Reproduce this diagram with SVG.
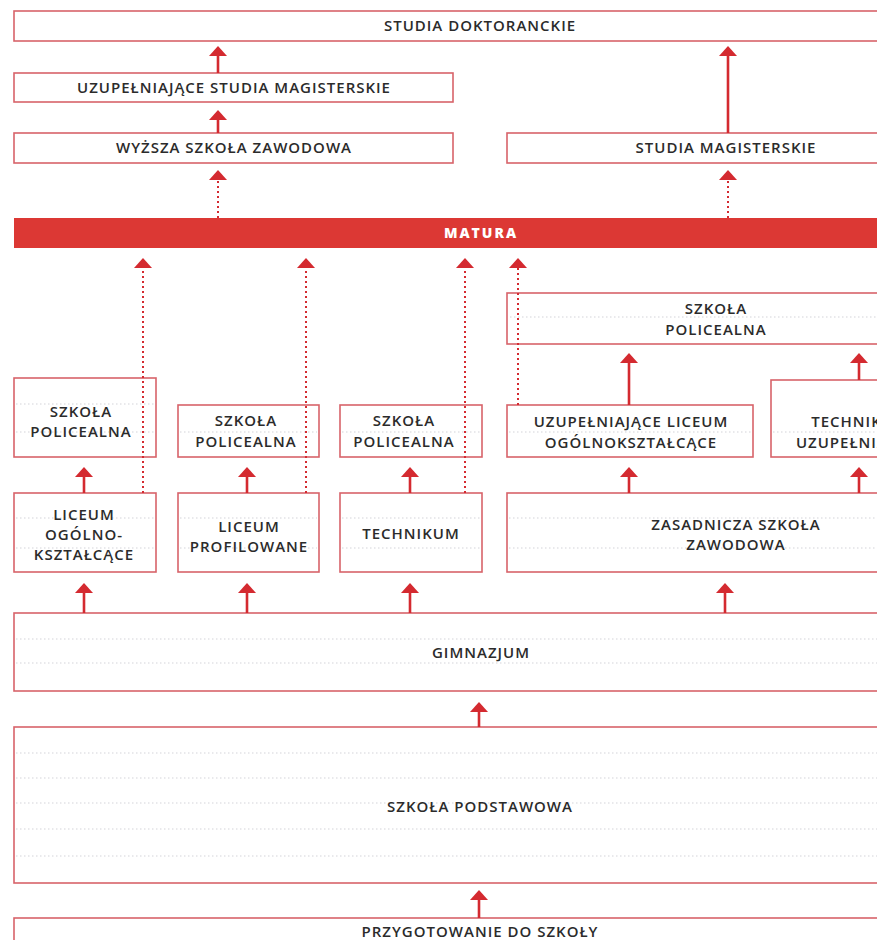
<svg xmlns="http://www.w3.org/2000/svg" width="877" height="940" viewBox="0 0 877 940">
<defs>
<style>
.box{fill:#fff;stroke:#d8636a;stroke-width:1.6}
.t{font-family:"Open Sans","Liberation Sans",sans-serif;font-size:15px;font-weight:600;fill:#2b2b2b;letter-spacing:1px;text-anchor:middle}
.mat{font-family:"Open Sans","Liberation Sans",sans-serif;font-size:14px;font-weight:800;fill:#fff;letter-spacing:2px;text-anchor:middle}
.sol{stroke:#d42a30;stroke-width:2.6;fill:none;marker-end:url(#ah)}
.dot{stroke:#d42a30;stroke-width:2;stroke-dasharray:2 3;fill:none;marker-end:url(#ah)}
.grid{stroke:#c4c4cc;stroke-width:1.2;stroke-dasharray:1.5 2.5;opacity:0.7}
</style>
<marker id="ah" viewBox="0 0 10 18" refX="0" refY="9" markerWidth="10" markerHeight="18" markerUnits="userSpaceOnUse" orient="auto">
<path d="M0,0 L10,9 L0,18 z" fill="#d42a30"/>
</marker>
</defs>
<rect width="877" height="940" fill="#fff"/>

<g id="n-doktoranckie"><rect class="box" x="14" y="11" width="880" height="30"/><text class="t" x="480" y="31">STUDIA DOKTORANCKIE</text></g>
<g id="n-uzup-mag"><rect class="box" x="14" y="73" width="439" height="29"/><text class="t" x="234" y="93">UZUPEŁNIAJĄCE STUDIA MAGISTERSKIE</text></g>
<g id="n-wsz"><rect class="box" x="14" y="133" width="439" height="30"/><text class="t" x="234" y="153">WYŻSZA SZKOŁA ZAWODOWA</text></g>
<g id="n-mag"><rect class="box" x="507" y="133" width="390" height="30"/><text class="t" x="726" y="153">STUDIA MAGISTERSKIE</text></g>
<g id="n-matura"><rect x="14" y="218" width="880" height="30" fill="#dc3834"/><text class="mat" x="481" y="238">MATURA</text></g>

<g id="n-polic-top"><rect class="box" x="507" y="293" width="390" height="51"/><line class="grid" x1="510" y1="317" x2="877" y2="317"/><text class="t" x="716" y="314">SZKOŁA</text><text class="t" x="716" y="335">POLICEALNA</text></g>

<g id="n-polic1"><rect class="box" x="14" y="378" width="142" height="79"/><line class="grid" x1="16" y1="404" x2="154" y2="404"/><line class="grid" x1="16" y1="432" x2="154" y2="432"/><text class="t" x="81" y="417">SZKOŁA</text><text class="t" x="81" y="437">POLICEALNA</text></g>
<g id="n-polic2"><rect class="box" x="178" y="405" width="141" height="52"/><line class="grid" x1="180" y1="432" x2="317" y2="432"/><text class="t" x="246" y="426">SZKOŁA</text><text class="t" x="246" y="447">POLICEALNA</text></g>
<g id="n-polic3"><rect class="box" x="340" y="405" width="142" height="52"/><line class="grid" x1="342" y1="432" x2="480" y2="432"/><text class="t" x="404" y="426">SZKOŁA</text><text class="t" x="404" y="447">POLICEALNA</text></g>
<g id="n-ulo"><rect class="box" x="507" y="405" width="246" height="52"/><line class="grid" x1="509" y1="432" x2="751" y2="432"/><text class="t" x="631" y="427">UZUPEŁNIAJĄCE LICEUM</text><text class="t" x="631" y="448">OGÓLNOKSZTAŁCĄCE</text></g>
<g id="n-tech-uzup"><rect class="box" x="771" y="380" width="176" height="77"/><line class="grid" x1="773" y1="432" x2="877" y2="432"/><text class="t" x="860" y="427">TECHNIKUM</text><text class="t" x="860" y="448">UZUPEŁNIAJĄCE</text></g>

<g id="n-lo"><rect class="box" x="14" y="493" width="142" height="79"/><line class="grid" x1="16" y1="518" x2="154" y2="518"/><line class="grid" x1="16" y1="548" x2="154" y2="548"/><text class="t" x="84" y="520">LICEUM</text><text class="t" x="84" y="540">OGÓLNO-</text><text class="t" x="84" y="560">KSZTAŁCĄCE</text></g>
<g id="n-lp"><rect class="box" x="178" y="493" width="141" height="79"/><line class="grid" x1="180" y1="518" x2="317" y2="518"/><line class="grid" x1="180" y1="548" x2="317" y2="548"/><text class="t" x="249" y="532">LICEUM</text><text class="t" x="249" y="552">PROFILOWANE</text></g>
<g id="n-tech"><rect class="box" x="340" y="493" width="142" height="79"/><line class="grid" x1="342" y1="518" x2="480" y2="518"/><line class="grid" x1="342" y1="548" x2="480" y2="548"/><text class="t" x="411" y="539">TECHNIKUM</text></g>
<g id="n-zsz"><rect class="box" x="507" y="493" width="390" height="79"/><line class="grid" x1="509" y1="518" x2="877" y2="518"/><line class="grid" x1="509" y1="548" x2="877" y2="548"/><text class="t" x="736" y="530">ZASADNICZA SZKOŁA</text><text class="t" x="736" y="550">ZAWODOWA</text></g>

<g id="n-gim"><rect class="box" x="14" y="613" width="880" height="78"/><line class="grid" x1="16" y1="639" x2="877" y2="639"/><line class="grid" x1="16" y1="663" x2="877" y2="663"/><text class="t" x="481" y="658">GIMNAZJUM</text></g>
<g id="n-podst"><rect class="box" x="14" y="727" width="880" height="156"/><line class="grid" x1="16" y1="753" x2="877" y2="753"/><line class="grid" x1="16" y1="778" x2="877" y2="778"/><line class="grid" x1="16" y1="803" x2="877" y2="803"/><line class="grid" x1="16" y1="829" x2="877" y2="829"/><line class="grid" x1="16" y1="856" x2="877" y2="856"/><text class="t" x="480" y="812">SZKOŁA PODSTAWOWA</text></g>
<g id="n-przyg"><rect class="box" x="14" y="918" width="880" height="40"/><text class="t" x="480" y="937">PRZYGOTOWANIE DO SZKOŁY</text></g>

<g id="connectors">
<line class="sol" x1="218" y1="73" x2="218" y2="56"/>
<line class="sol" x1="218" y1="133" x2="218" y2="120"/>
<line class="sol" x1="728" y1="133" x2="728" y2="56"/>
<line class="dot" x1="218" y1="218" x2="218" y2="180"/>
<line class="dot" x1="728" y1="218" x2="728" y2="180"/>
<line class="dot" x1="143" y1="493" x2="143" y2="268"/>
<line class="dot" x1="306" y1="493" x2="306" y2="268"/>
<line class="dot" x1="465" y1="493" x2="465" y2="268"/>
<line class="dot" x1="518" y1="405" x2="518" y2="268"/>
<line class="sol" x1="629" y1="405" x2="629" y2="363"/>
<line class="sol" x1="859" y1="380" x2="859" y2="363"/>
<line class="sol" x1="84" y1="493" x2="84" y2="477"/>
<line class="sol" x1="247" y1="493" x2="247" y2="477"/>
<line class="sol" x1="410" y1="493" x2="410" y2="477"/>
<line class="sol" x1="629" y1="493" x2="629" y2="477"/>
<line class="sol" x1="859" y1="493" x2="859" y2="477"/>
<line class="sol" x1="84" y1="613" x2="84" y2="593"/>
<line class="sol" x1="247" y1="613" x2="247" y2="593"/>
<line class="sol" x1="410" y1="613" x2="410" y2="593"/>
<line class="sol" x1="725" y1="613" x2="725" y2="593"/>
<line class="sol" x1="479" y1="727" x2="479" y2="712"/>
<line class="sol" x1="479" y1="918" x2="479" y2="900"/>
</g>
</svg>
